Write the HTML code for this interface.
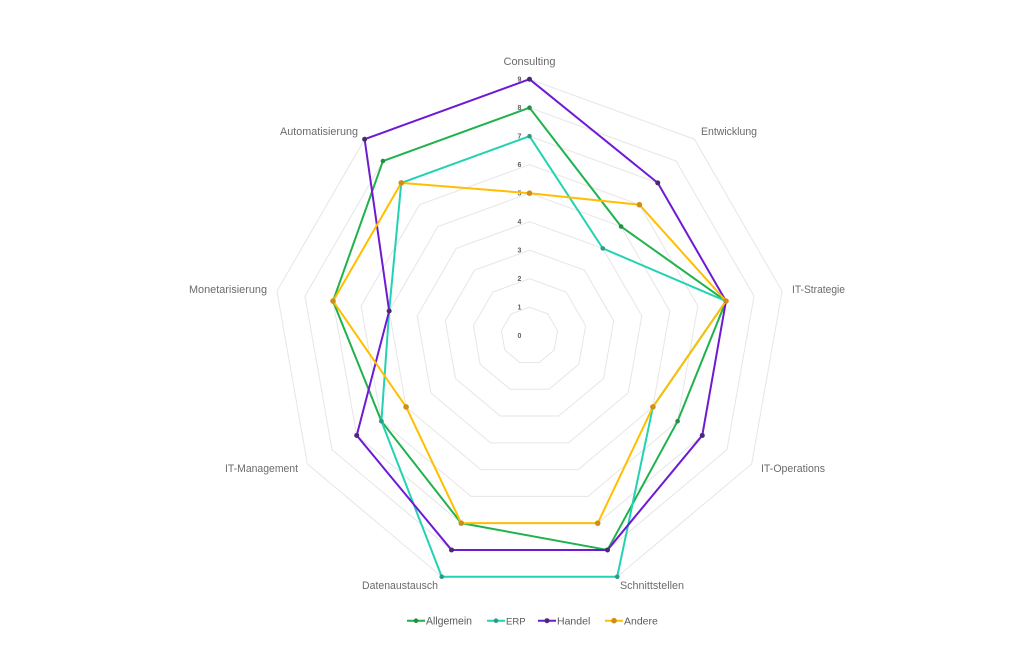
<!DOCTYPE html>
<html>
<head>
<meta charset="utf-8">
<style>
  html,body{margin:0;padding:0;background:#fff;}
  svg{display:block;font-family:"Liberation Sans", sans-serif;}
</style>
</head>
<body>
<svg width="1024" height="646" viewBox="0 0 1024 646" xmlns="http://www.w3.org/2000/svg">
  <rect width="1024" height="646" fill="#ffffff"/>
  <g transform="translate(529.5,335.7)">
    <!-- grid -->
    <g fill="none" stroke="#e6e6e6" stroke-width="1">
      <polygon points="0,-28.5 18.32,-21.83 28.07,-4.95 24.68,14.25 9.75,26.78 -9.75,26.78 -24.68,14.25 -28.07,-4.95 -18.32,-21.83"/>
      <polygon points="0,-57 36.64,-43.66 56.13,-9.9 49.36,28.5 19.49,53.56 -19.49,53.56 -49.36,28.5 -56.13,-9.9 -36.64,-43.66"/>
      <polygon points="0,-85.5 54.96,-65.49 84.2,-14.84 74.04,42.75 29.24,80.34 -29.24,80.34 -74.04,42.75 -84.2,-14.84 -54.96,-65.49"/>
      <polygon points="0,-114 73.28,-87.32 112.27,-19.79 98.72,57 38.99,107.13 -38.99,107.13 -98.72,57 -112.27,-19.79 -73.28,-87.32"/>
      <polygon points="0,-142.5 91.6,-109.16 140.34,-24.74 123.41,71.25 48.74,133.91 -48.74,133.91 -123.41,71.25 -140.34,-24.74 -91.6,-109.16"/>
      <polygon points="0,-171 109.92,-130.99 168.4,-29.69 148.09,85.5 58.48,160.69 -58.48,160.69 -148.09,85.5 -168.4,-29.69 -109.92,-130.99"/>
      <polygon points="0,-199.5 128.24,-152.82 196.47,-34.63 172.77,99.75 68.23,187.47 -68.23,187.47 -172.77,99.75 -196.47,-34.63 -128.24,-152.82"/>
      <polygon points="0,-228 146.56,-174.65 224.53,-39.58 197.45,114 77.98,214.25 -77.98,214.25 -197.45,114 -224.53,-39.58 -146.56,-174.65"/>
      <polygon points="0,-256.5 164.88,-196.48 252.6,-44.53 222.13,128.25 87.73,241.03 -87.73,241.03 -222.13,128.25 -252.6,-44.53 -164.88,-196.48"/>
    </g>
    <!-- tick labels -->
    <g fill="#606060" font-size="7" font-weight="bold" text-anchor="middle">
      <text x="-10" y="2.5">0</text>
      <text x="-10" y="-26">1</text>
      <text x="-10" y="-54.5">2</text>
      <text x="-10" y="-83">3</text>
      <text x="-10" y="-111.5">4</text>
      <text x="-10" y="-140">5</text>
      <text x="-10" y="-168.5">6</text>
      <text x="-10" y="-197">7</text>
      <text x="-10" y="-225.5">8</text>
      <text x="-10" y="-254">9</text>
    </g>
    <!-- series -->
    <g fill="none" stroke-width="2" stroke-linejoin="round">
      <polygon stroke="#1fb24c" points="0,-228 91.6,-109.16 196.47,-34.63 148.09,85.5 77.98,214.25 -68.23,187.47 -148.09,85.5 -196.47,-34.63 -146.56,-174.65"/>
      <polygon stroke="#22d2b2" points="0,-199.5 73.28,-87.32 196.47,-34.63 123.41,71.25 87.73,241.03 -87.73,241.03 -148.09,85.5 -140.34,-24.74 -128.24,-152.82"/>
      <polygon stroke="#6e1ad4" points="0,-256.5 128.24,-152.82 196.47,-34.63 172.77,99.75 77.98,214.25 -77.98,214.25 -172.77,99.75 -140.34,-24.74 -164.88,-196.48"/>
      <polygon stroke="#ffbf00" points="0,-142.5 109.92,-130.99 196.47,-34.63 123.41,71.25 68.23,187.47 -68.23,187.47 -123.41,71.25 -196.47,-34.63 -128.24,-152.82"/>
    </g>
    <!-- markers -->
    <g fill="#2a8a48">
      <circle cx="0" cy="-228" r="2.3"/><circle cx="91.6" cy="-109.16" r="2.3"/><circle cx="196.47" cy="-34.63" r="2.3"/><circle cx="148.09" cy="85.5" r="2.3"/><circle cx="77.98" cy="214.25" r="2.3"/><circle cx="-68.23" cy="187.47" r="2.3"/><circle cx="-148.09" cy="85.5" r="2.3"/><circle cx="-196.47" cy="-34.63" r="2.3"/><circle cx="-146.56" cy="-174.65" r="2.3"/>
    </g>
    <g fill="#2a9c86">
      <circle cx="0" cy="-199.5" r="2.3"/><circle cx="73.28" cy="-87.32" r="2.3"/><circle cx="196.47" cy="-34.63" r="2.3"/><circle cx="123.41" cy="71.25" r="2.3"/><circle cx="87.73" cy="241.03" r="2.3"/><circle cx="-87.73" cy="241.03" r="2.3"/><circle cx="-148.09" cy="85.5" r="2.3"/><circle cx="-140.34" cy="-24.74" r="2.3"/><circle cx="-128.24" cy="-152.82" r="2.3"/>
    </g>
    <g fill="#4a2a72">
      <circle cx="0" cy="-256.5" r="2.5"/><circle cx="128.24" cy="-152.82" r="2.5"/><circle cx="196.47" cy="-34.63" r="2.5"/><circle cx="172.77" cy="99.75" r="2.5"/><circle cx="77.98" cy="214.25" r="2.5"/><circle cx="-77.98" cy="214.25" r="2.5"/><circle cx="-172.77" cy="99.75" r="2.5"/><circle cx="-140.34" cy="-24.74" r="2.5"/><circle cx="-164.88" cy="-196.48" r="2.5"/>
    </g>
    <g fill="#cc8f1c">
      <circle cx="0" cy="-142.5" r="2.8"/><circle cx="109.92" cy="-130.99" r="2.8"/><circle cx="196.47" cy="-34.63" r="2.8"/><circle cx="123.41" cy="71.25" r="2.8"/><circle cx="68.23" cy="187.47" r="2.8"/><circle cx="-68.23" cy="187.47" r="2.8"/><circle cx="-123.41" cy="71.25" r="2.8"/><circle cx="-196.47" cy="-34.63" r="2.8"/><circle cx="-128.24" cy="-152.82" r="2.8"/>
    </g>
  </g>
  <!-- axis labels -->
  <g fill="#6b6b6b" font-size="11">
    <text x="529.5" y="65" text-anchor="middle">Consulting</text>
    <text x="701" y="135" textLength="56" lengthAdjust="spacingAndGlyphs">Entwicklung</text>
    <text x="792" y="293" textLength="53" lengthAdjust="spacingAndGlyphs">IT-Strategie</text>
    <text x="761" y="472" textLength="64" lengthAdjust="spacingAndGlyphs">IT-Operations</text>
    <text x="620" y="589" textLength="64" lengthAdjust="spacingAndGlyphs">Schnittstellen</text>
    <text x="362" y="589" textLength="76" lengthAdjust="spacingAndGlyphs">Datenaustausch</text>
    <text x="225" y="472" textLength="73" lengthAdjust="spacingAndGlyphs">IT-Management</text>
    <text x="189" y="293" textLength="78" lengthAdjust="spacingAndGlyphs">Monetarisierung</text>
    <text x="280" y="135" textLength="78" lengthAdjust="spacingAndGlyphs">Automatisierung</text>
  </g>
  <!-- legend -->
  <g stroke-width="2">
    <line x1="407" y1="620.7" x2="425" y2="620.7" stroke="#1fb24c"/>
    <line x1="487" y1="620.7" x2="505" y2="620.7" stroke="#22d2b2"/>
    <line x1="538" y1="620.7" x2="556" y2="620.7" stroke="#6e1ad4"/>
    <line x1="605" y1="620.7" x2="623" y2="620.7" stroke="#ffbf00"/>
  </g>
  <circle cx="416" cy="620.7" r="2.3" fill="#2a8a48"/>
  <circle cx="496" cy="620.7" r="2.3" fill="#2a9c86"/>
  <circle cx="547" cy="620.7" r="2.5" fill="#4a2a72"/>
  <circle cx="614" cy="620.7" r="2.8" fill="#cc8f1c"/>
  <g fill="#5a5a5a" font-size="11">
    <text x="426" y="624.5" textLength="46" lengthAdjust="spacingAndGlyphs">Allgemein</text>
    <text x="506" y="624.5" font-size="9.5">ERP</text>
    <text x="557" y="624.5" font-size="10.5">Handel</text>
    <text x="624" y="624.5" font-size="10.5">Andere</text>
  </g>
</svg>
</body>
</html>
